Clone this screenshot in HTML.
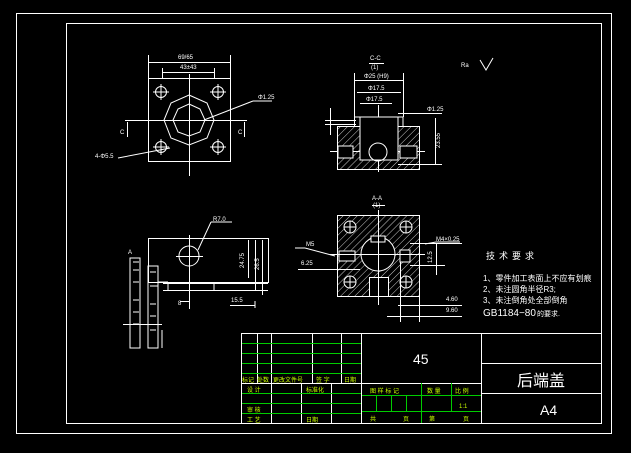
<!DOCTYPE html>
<html><head><meta charset="utf-8"><style>
html,body{margin:0;padding:0;background:#000;}
svg{display:block}
text{font-family:"Liberation Sans","Noto Sans CJK SC",sans-serif;}
</style></head><body>
<svg width="631" height="453" viewBox="0 0 631 453" xmlns="http://www.w3.org/2000/svg">
<defs>
<pattern id="h" patternUnits="userSpaceOnUse" width="5" height="5" patternTransform="rotate(45)">
<line x1="0" y1="0" x2="0" y2="5" stroke="#fff" stroke-width="0.8"/>
</pattern>
</defs>
<rect width="631" height="453" fill="#000"/>
<g fill="none" stroke="#fff" stroke-width="1">
<rect x="16.5" y="13.5" width="595" height="420"/>
<rect x="66.5" y="23.5" width="535" height="400"/>

<!-- top-left view -->
<rect x="148.5" y="78.5" width="82" height="83"/>
<line x1="148.5" y1="55" x2="148.5" y2="78"/><line x1="230.5" y1="55" x2="230.5" y2="78"/>
<line x1="148" y1="62.5" x2="230" y2="62.5"/>
<line x1="162.5" y1="68" x2="162.5" y2="78"/><line x1="214.5" y1="68" x2="214.5" y2="78"/>
<line x1="162" y1="72.5" x2="214" y2="72.5"/>
<line x1="189.5" y1="74" x2="189.5" y2="176"/>
<line x1="125" y1="120.5" x2="247" y2="120.5"/>
<polygon points="189,95 207,103 214,120 207,138 189,145 171,138 164,120 171,103"/>
<polygon points="189,104 200,109 205,120 200,132 189,136 178,132 173,120 178,109"/>
<circle cx="161" cy="92" r="5.5"/><circle cx="218" cy="92" r="5.5"/>
<circle cx="161" cy="147" r="5.5"/><circle cx="218" cy="147" r="5.5"/>
<path d="M153 92h16M161 84v16M210 92h16M218 84v16M153 147h16M161 139v16M210 147h16M218 139v16"/>
<line x1="127.5" y1="122" x2="127.5" y2="137"/><line x1="244.5" y1="122" x2="244.5" y2="137"/>
<line x1="204" y1="120" x2="253" y2="101"/><line x1="253" y1="101" x2="272" y2="101"/>
<line x1="118" y1="158" x2="170" y2="148"/>

<!-- C-C section -->
<line x1="369" y1="63.5" x2="384" y2="63.5"/>
<line x1="354.5" y1="73" x2="354.5" y2="117"/><line x1="403.5" y1="73" x2="403.5" y2="117"/>
<line x1="354" y1="80.5" x2="403" y2="80.5"/>
<line x1="357" y1="92.5" x2="401" y2="92.5"/>
<line x1="360" y1="103.5" x2="392" y2="103.5"/>
<line x1="378.5" y1="105" x2="378.5" y2="172"/>
<line x1="330" y1="151.5" x2="425" y2="151.5"/>
<rect x="337.5" y="126.5" width="82" height="43" fill="url(#h)"/>
<rect x="360" y="117" width="38" height="43" fill="#000"/>
<path d="M337.5 126.5h17v-9.5h5.5v43h38v-43h5v9.5h16"/>
<rect x="338" y="146" width="15" height="12" fill="#000"/>
<rect x="400" y="146" width="17" height="12" fill="#000"/>
<circle cx="378" cy="152" r="9"/>
<line x1="398" y1="113.5" x2="442" y2="113.5"/>
<line x1="398" y1="164.5" x2="442" y2="164.5"/>
<line x1="435.5" y1="118" x2="435.5" y2="164"/>
<line x1="330.5" y1="108" x2="330.5" y2="135"/>
<line x1="325" y1="120.5" x2="356" y2="120.5"/>
<line x1="325" y1="124.5" x2="356" y2="124.5"/>
<path d="M480 60l6 10l7-12"/>

<!-- bottom-left view -->
<rect x="148.5" y="238.5" width="120" height="44"/>
<path d="M163 283.5h105M163 290.5h105M168 283.5v7M214 283.5v7"/>
<circle cx="189" cy="256" r="10"/>
<line x1="189.5" y1="235" x2="189.5" y2="309"/>
<line x1="176" y1="256.5" x2="203" y2="256.5"/>
<line x1="198" y1="250" x2="211" y2="222"/><line x1="211" y1="222" x2="232" y2="222"/>
<line x1="237" y1="238.5" x2="268" y2="238.5"/>
<line x1="248.5" y1="240" x2="248.5" y2="278"/>
<line x1="255.5" y1="240" x2="255.5" y2="290"/>
<line x1="262.5" y1="240" x2="262.5" y2="295"/>
<line x1="255" y1="301" x2="255" y2="308"/>
<line x1="230" y1="305.5" x2="255" y2="305.5"/>
<path d="M130 258h10v90h-10zM133 262h6M133 270h6M133 282h6M133 300h6M133 312h6M133 324h6"/>
<path d="M148 266h10v82h-10zM150 272h6M150 286h8M150 304h6M150 316h6M150 330h6M158 282h10M162 330v18"/>
<line x1="123" y1="324.5" x2="162" y2="324.5"/>
<line x1="180" y1="301.5" x2="190" y2="301.5"/>

<!-- A-A section -->
<line x1="372" y1="205.5" x2="385" y2="205.5"/>
<rect x="337.5" y="215.5" width="82" height="81" fill="url(#h)"/>
<circle cx="378" cy="254" r="17" fill="#000"/>
<rect x="369.5" y="277.5" width="19" height="19" fill="#000"/>
<rect x="371" y="236" width="14" height="6" fill="#000"/>
<rect x="339" y="251" width="16" height="10" fill="#000"/>
<rect x="400" y="250" width="10" height="12" fill="#000"/>
<circle cx="350" cy="227" r="6" fill="#000"/><circle cx="406" cy="227" r="6" fill="#000"/>
<circle cx="350" cy="282" r="6" fill="#000"/><circle cx="406" cy="282" r="6" fill="#000"/>
<path d="M344 227h12M350 221v12M400 227h12M406 221v12M344 282h12M350 276v12M400 282h12M406 276v12"/>
<line x1="378.5" y1="210" x2="378.5" y2="305"/>
<line x1="330" y1="254.5" x2="425" y2="254.5"/>
<line x1="305" y1="248" x2="335" y2="256"/><line x1="295" y1="248" x2="305" y2="248"/>
<line x1="298" y1="269.5" x2="360" y2="269.5"/>
<line x1="410" y1="243.5" x2="462" y2="243.5"/>
<line x1="410" y1="265.5" x2="445" y2="265.5"/>
<line x1="436.5" y1="244" x2="436.5" y2="275"/>
<line x1="425" y1="244" x2="436" y2="242"/><line x1="436" y1="242" x2="460" y2="242"/>
<line x1="400.5" y1="262" x2="400.5" y2="322"/><line x1="419.5" y1="297" x2="419.5" y2="322"/>
<line x1="398" y1="305.5" x2="462" y2="305.5"/>
<line x1="387" y1="316.5" x2="462" y2="316.5"/>

<!-- title block -->
<rect x="241.5" y="333.5" width="360" height="90"/>
<line x1="361.5" y1="333" x2="361.5" y2="423"/>
<line x1="481.5" y1="333" x2="481.5" y2="423"/>
<line x1="481" y1="363.5" x2="601" y2="363.5"/>
<line x1="481" y1="393.5" x2="601" y2="393.5"/>
<line x1="241" y1="383.5" x2="481" y2="383.5"/>
<line x1="257.5" y1="333" x2="257.5" y2="383"/>
<line x1="271.5" y1="333" x2="271.5" y2="423"/>
<line x1="312.5" y1="333" x2="312.5" y2="383"/>
<line x1="341.5" y1="333" x2="341.5" y2="383"/>
<line x1="301.5" y1="383" x2="301.5" y2="423"/>
<line x1="331.5" y1="383" x2="331.5" y2="423"/>
</g>
<g stroke="#0c0" stroke-width="1" fill="none">
<line x1="242" y1="343.5" x2="361" y2="343.5"/>
<line x1="242" y1="353.5" x2="361" y2="353.5"/>
<line x1="242" y1="363.5" x2="361" y2="363.5"/>
<line x1="242" y1="373.5" x2="361" y2="373.5"/>
<line x1="242" y1="393.5" x2="361" y2="393.5"/>
<line x1="242" y1="403.5" x2="361" y2="403.5"/>
<line x1="242" y1="413.5" x2="361" y2="413.5"/>
<line x1="362" y1="395.5" x2="481" y2="395.5"/>
<line x1="362" y1="411.5" x2="481" y2="411.5"/>
<line x1="421.5" y1="383" x2="421.5" y2="423"/>
<line x1="451.5" y1="383" x2="451.5" y2="411"/>
<line x1="376.5" y1="395" x2="376.5" y2="411"/>
<line x1="391.5" y1="395" x2="391.5" y2="411"/>
<line x1="406.5" y1="395" x2="406.5" y2="411"/>
</g>
<g fill="#fff" font-size="6">
<text x="178" y="59">69/65</text>
<text x="180" y="69">43±43</text>
<text x="120" y="134">C</text><text x="238" y="134">C</text>
<text x="258" y="99">Φ1.25</text>
<text x="95" y="158">4-Φ5.5</text>
<text x="370" y="60">C-C</text><text x="371" y="69">(1)</text>
<text x="364" y="78">Φ25 (H9)</text>
<text x="368" y="90">Φ17.5</text>
<text x="366" y="101">Φ17.5</text>
<text x="427" y="111">Φ1.25</text>
<text x="440" y="148" transform="rotate(-90 440 148)">23.55</text>
<text x="461" y="67">Ra</text>
<text x="213" y="221">R7.0</text>
<text x="244" y="268" transform="rotate(-90 244 268)">24.75</text>
<text x="259" y="270" transform="rotate(-90 259 270)">26.5</text>
<text x="231" y="302">15.5</text>
<text x="178" y="305">8</text>
<text x="128" y="254">A</text>
<text x="372" y="200">A-A</text><text x="373" y="207">(1)</text>
<text x="306" y="246">M5</text>
<text x="301" y="265">6.25</text>
<text x="436" y="241">M4×0.25</text>
<text x="432" y="263" transform="rotate(-90 432 263)">12.5</text>
<text x="446" y="301">4.60</text><text x="446" y="312">9.60</text>
</g>
<g fill="#fff">
<text x="486" y="259" font-size="9" letter-spacing="4">技术要求</text>
<text x="483" y="281" font-size="8">1、零件加工表面上不应有划痕</text>
<text x="483" y="292" font-size="8">2、未注圆角半径R3;</text>
<text x="483" y="303" font-size="8">3、未注倒角处全部倒角</text>
<text x="483" y="316" font-size="10">GB1184−80</text>
<text x="537" y="316" font-size="7">的要求.</text>
<text x="413" y="364" font-size="14">45</text>
<text x="517" y="386" font-size="16">后端盖</text>
<text x="540" y="415" font-size="14">A4</text>
</g>
<g fill="#cf0" font-size="6">
<text x="242" y="382">标记</text><text x="257" y="382">处数</text><text x="273" y="382">更改文件号</text>
<text x="316" y="382">签 字</text><text x="344" y="382">日期</text>
<text x="247" y="392">设 计</text><text x="306" y="392">标准化</text>
<text x="247" y="412">审 核</text><text x="247" y="422">工 艺</text><text x="306" y="422">日期</text>
<text x="370" y="393">图 样 标 记</text><text x="427" y="393">数 量</text><text x="455" y="393">比 例</text>
<text x="459" y="408">1:1</text>
<text x="370" y="421">共</text><text x="403" y="421">页</text><text x="429" y="421">第</text><text x="463" y="421">页</text>
</g>
</svg>
</body></html>
